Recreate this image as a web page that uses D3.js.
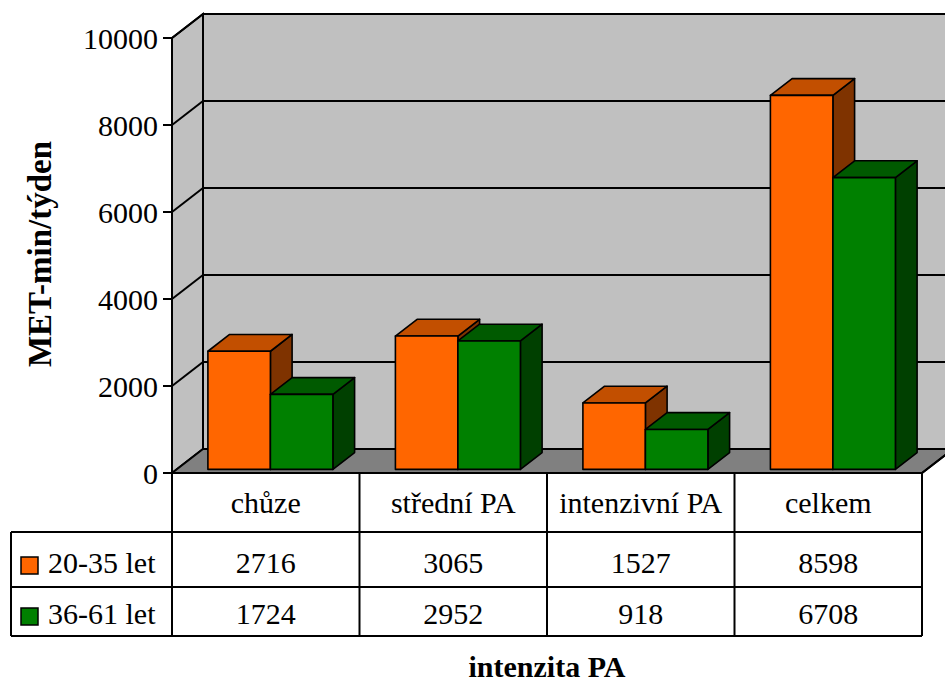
<!DOCTYPE html>
<html>
<head>
<meta charset="utf-8">
<script src="https://cdn.jsdelivr.net/npm/d3@7"></script>
<style>
  html, body { margin: 0; padding: 0; background: #fff; }
  svg { display: block; }
  svg text { font-family: "Liberation Serif", "Times New Roman", "DejaVu Serif", serif; }
</style>
</head>
<body>
<svg id="chart" width="945" height="684"></svg>
<script>
// Physical activity volume by intensity and age group
const categories = ["chůze", "střední PA", "intenzivní PA", "celkem"];
const seriesNames = ["20-35 let", "36-61 let"];
const youngValues = [2716, 3065, 1527, 8598];
const olderValues = [1724, 2952, 918, 6708];
const yTicks = [0, 2000, 4000, 6000, 8000, 10000];
const yTitle = "MET-min/týden";
const xTitle = "intenzita PA";

const seriesValues = [youngValues, olderValues];
const palette = [
  { front: "#ff6600", top: "#c24f00", side: "#7f3300" },
  { front: "#008000", top: "#005a00", side: "#004000" }
];

const svg = d3.select("#chart");

// plot box (front plane) and the 3D depth offset
const plotLeft = 172, plotRight = 922, plotBottom = 473, plotTop = 38;
const depthX = 31, depthY = -24;
const barFront = 0.15, barBack = 0.85;

const y = d3.scaleLinear().domain([0, 10000]).range([plotBottom, plotTop]);
const x0 = d3.scaleBand().domain(categories).range([plotLeft, plotRight]).paddingInner(0).paddingOuter(0);
const x1 = d3.scaleBand().domain(seriesNames).range([0, x0.bandwidth()]).paddingInner(0).paddingOuter(0.5);

const pts = a => a.map(p => p.join(",")).join(" ");

// back wall
svg.append("polygon")
  .attr("points", pts([[plotLeft + depthX, plotTop + depthY], [plotRight + depthX, plotTop + depthY],
                       [plotRight + depthX, plotBottom + depthY], [plotLeft + depthX, plotBottom + depthY]]))
  .attr("fill", "#c0c0c0").attr("stroke", "#000").attr("stroke-width", 2);

// side wall
svg.append("polygon")
  .attr("points", pts([[plotLeft, plotTop], [plotLeft + depthX, plotTop + depthY],
                       [plotLeft + depthX, plotBottom + depthY], [plotLeft, plotBottom]]))
  .attr("fill", "#c0c0c0").attr("stroke", "#000").attr("stroke-width", 2);

// floor
svg.append("polygon")
  .attr("points", pts([[plotLeft, plotBottom], [plotRight, plotBottom],
                       [plotRight + depthX, plotBottom + depthY], [plotLeft + depthX, plotBottom + depthY]]))
  .attr("fill", "#808080").attr("stroke", "#000").attr("stroke-width", 2);

// gridlines on side wall and back wall
const grid = svg.append("g").attr("stroke", "#000").attr("stroke-width", 2);
yTicks.filter(t => t > 0).forEach(t => {
  grid.append("line")
    .attr("x1", plotLeft).attr("y1", y(t))
    .attr("x2", plotLeft + depthX).attr("y2", y(t) + depthY);
  grid.append("line")
    .attr("x1", plotLeft + depthX).attr("y1", y(t) + depthY)
    .attr("x2", plotRight + depthX).attr("y2", y(t) + depthY);
});

// bars as 3D boxes
const bars = svg.append("g").attr("stroke", "#000").attr("stroke-width", 1.6).attr("stroke-linejoin", "round");
categories.forEach((cat, ci) => {
  seriesNames.forEach((s, si) => {
    const v = seriesValues[si][ci];
    const fx = barFront * depthX, fy = barFront * depthY;
    const bx = barBack * depthX, by = barBack * depthY;
    const xl = x0(cat) + x1(s) + fx;
    const xr = xl + x1.bandwidth();
    const yt = y(v) + fy;
    const yb = y(0) + fy;
    const dx = bx - fx, dy = by - fy;
    const c = palette[si];
    bars.append("polygon")
      .attr("points", pts([[xr, yt], [xr + dx, yt + dy], [xr + dx, yb + dy], [xr, yb]]))
      .attr("fill", c.side);
    bars.append("polygon")
      .attr("points", pts([[xl, yt], [xl + dx, yt + dy], [xr + dx, yt + dy], [xr, yt]]))
      .attr("fill", c.top);
    bars.append("rect")
      .attr("x", xl).attr("y", yt).attr("width", xr - xl).attr("height", yb - yt)
      .attr("fill", c.front);
  });
});

// value axis with ticks
const yAxis = svg.append("g");
yAxis.append("line").attr("x1", plotLeft).attr("y1", plotTop).attr("x2", plotLeft).attr("y2", plotBottom)
  .attr("stroke", "#000").attr("stroke-width", 2);
yTicks.forEach(t => {
  yAxis.append("line").attr("x1", plotLeft - 9).attr("x2", plotLeft).attr("y1", y(t)).attr("y2", y(t))
    .attr("stroke", "#000").attr("stroke-width", 2);
  yAxis.append("text").attr("x", plotLeft - 14).attr("y", y(t)).attr("dy", "0.35em")
    .attr("text-anchor", "end").attr("font-size", 30).text(t);
});

// data table under the plot
const tableTop = plotBottom, row1 = 532, row2 = 587, row3 = 636, tableLeft = 11;
const tbl = svg.append("g").attr("stroke", "#000").attr("stroke-width", 2);
[row1, row2, row3].forEach(r => tbl.append("line").attr("x1", tableLeft).attr("x2", plotRight).attr("y1", r).attr("y2", r));
tbl.append("line").attr("x1", tableLeft).attr("x2", tableLeft).attr("y1", row1).attr("y2", row3);
categories.forEach(cat => {
  tbl.append("line").attr("x1", x0(cat)).attr("x2", x0(cat)).attr("y1", tableTop).attr("y2", row3);
});
tbl.append("line").attr("x1", plotRight).attr("x2", plotRight).attr("y1", tableTop).attr("y2", row3);
tbl.append("line").attr("x1", plotRight).attr("y1", plotBottom).attr("x2", plotRight + depthX).attr("y2", plotBottom + depthY);

const txt = svg.append("g").attr("font-size", 30).attr("text-anchor", "middle").attr("fill", "#000");
categories.forEach((cat, ci) => {
  const cx = x0(cat) + x0.bandwidth() / 2;
  txt.append("text").attr("x", cx).attr("y", 513).text(cat);
  txt.append("text").attr("x", cx).attr("y", 573).text(youngValues[ci]);
  txt.append("text").attr("x", cx).attr("y", 624).text(olderValues[ci]);
});

// legend keys in the first column
const rowBase = [573, 624];
seriesNames.forEach((s, si) => {
  svg.append("rect").attr("x", 21).attr("y", rowBase[si] - 16).attr("width", 17).attr("height", 17)
    .attr("fill", palette[si].front).attr("stroke", "#000").attr("stroke-width", 1.5);
  svg.append("text").attr("x", 48).attr("y", rowBase[si]).attr("font-size", 30).text(s);
});

// axis titles
svg.append("text").attr("x", 547).attr("y", 677).attr("text-anchor", "middle")
  .attr("font-size", 30).attr("font-weight", "bold").text(xTitle);
svg.append("text").attr("transform", "translate(51,254) rotate(-90)").attr("text-anchor", "middle")
  .attr("font-size", 33).attr("font-weight", "bold").text(yTitle);
</script>
</body>
</html>
